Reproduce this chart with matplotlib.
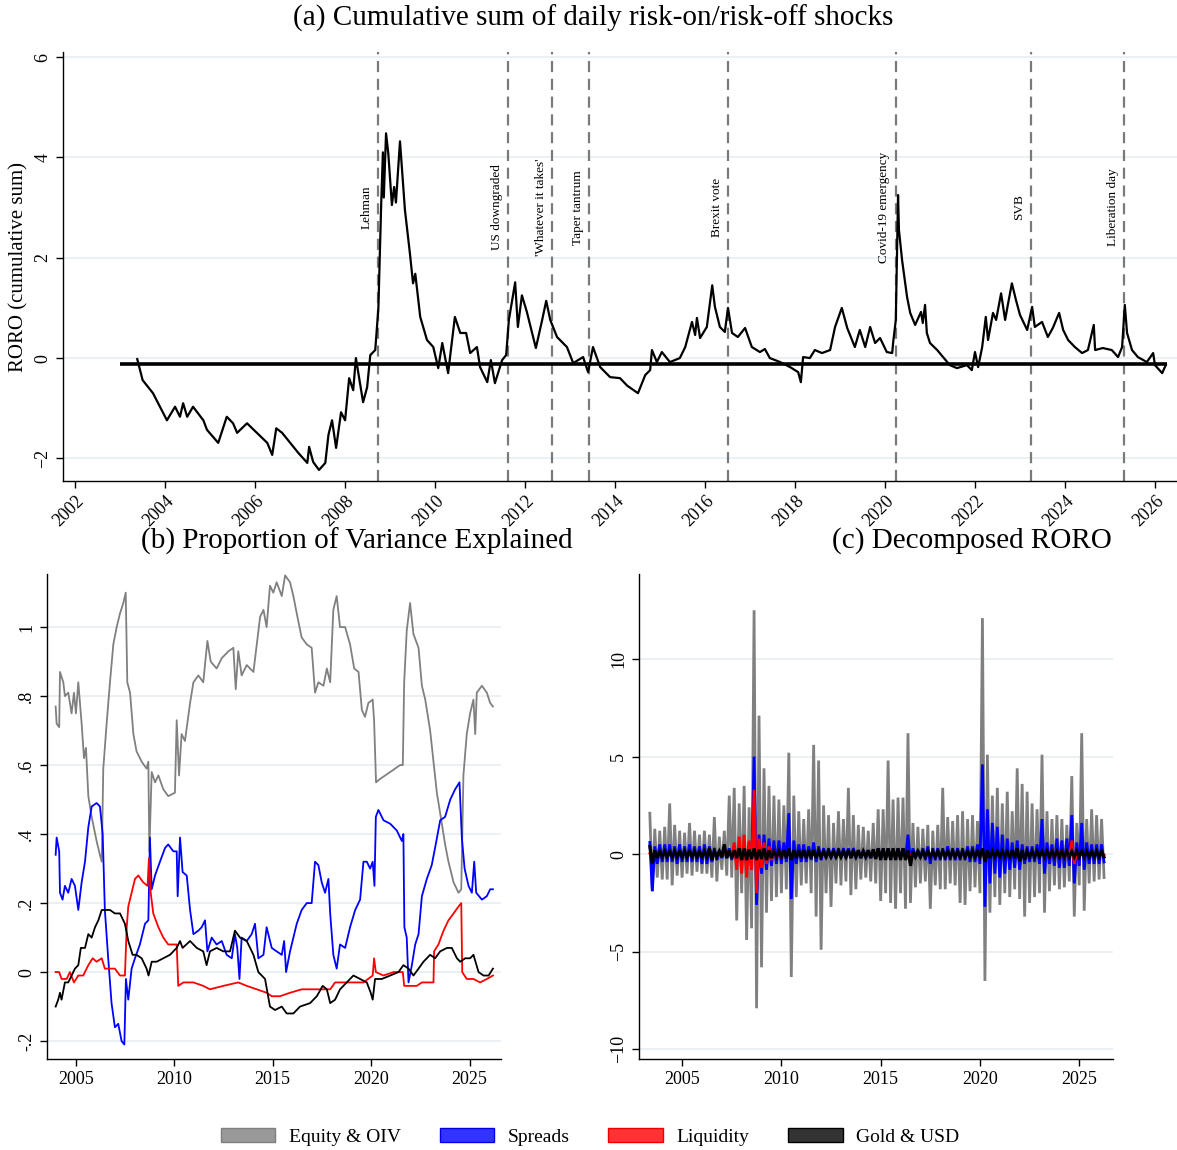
import matplotlib
matplotlib.use("Agg")
import matplotlib.pyplot as plt
from matplotlib.patches import Patch
import numpy as np

plt.rcParams['font.family'] = ['Liberation Serif', 'DejaVu Serif']

# ---------------- panel (a): cumulative RORO ----------------
a_year = [2003.38, 2003.50, 2003.73, 2004.04, 2004.22, 2004.33, 2004.40, 2004.49, 2004.62, 2004.85,
          2004.93, 2005.18, 2005.37, 2005.51, 2005.60, 2005.82, 2006.04, 2006.27, 2006.38, 2006.47,
          2006.60, 2006.78, 2006.96, 2007.16, 2007.20, 2007.29, 2007.42, 2007.56, 2007.63, 2007.71,
          2007.80, 2007.91, 2008.00, 2008.09, 2008.18, 2008.24, 2008.40, 2008.49, 2008.56, 2008.67,
          2008.74, 2008.80, 2008.84, 2008.86, 2008.91, 2008.96, 2009.04, 2009.09, 2009.13, 2009.22,
          2009.33, 2009.44, 2009.51, 2009.56, 2009.67, 2009.82, 2009.96, 2010.07, 2010.16, 2010.29,
          2010.44, 2010.56, 2010.69, 2010.78, 2010.93, 2011.00, 2011.16, 2011.24, 2011.33, 2011.49,
          2011.58, 2011.64, 2011.78, 2011.84, 2011.93, 2012.04, 2012.24, 2012.38, 2012.47, 2012.56,
          2012.71, 2012.93, 2013.07, 2013.29, 2013.40, 2013.51, 2013.67, 2013.89, 2014.11, 2014.27,
          2014.51, 2014.67, 2014.78, 2014.82, 2014.93, 2015.04, 2015.22, 2015.44, 2015.56, 2015.71,
          2015.78, 2015.82, 2015.89, 2016.04, 2016.16, 2016.22, 2016.33, 2016.44, 2016.51, 2016.60,
          2016.73, 2016.89, 2017.04, 2017.22, 2017.33, 2017.44, 2017.67, 2017.89, 2018.07, 2018.13,
          2018.18, 2018.33, 2018.44, 2018.60, 2018.78, 2018.89, 2019.04, 2019.16, 2019.33, 2019.44,
          2019.56, 2019.67, 2019.78, 2019.89, 2020.04, 2020.16, 2020.18, 2020.24, 2020.29, 2020.31,
          2020.38, 2020.42, 2020.49, 2020.56, 2020.67, 2020.80, 2020.84, 2020.89, 2020.93, 2021.00,
          2021.16, 2021.29, 2021.44, 2021.60, 2021.82, 2021.93, 2022.00, 2022.07, 2022.16, 2022.24,
          2022.29, 2022.40, 2022.47, 2022.58, 2022.67, 2022.73, 2022.82, 2022.91, 2023.00, 2023.16,
          2023.27, 2023.33, 2023.49, 2023.62, 2023.73, 2023.87, 2023.96, 2024.07, 2024.22, 2024.38,
          2024.51, 2024.64, 2024.67, 2024.84, 2025.04, 2025.18, 2025.27, 2025.33, 2025.38, 2025.49,
          2025.62, 2025.82, 2025.96, 2026.00, 2026.16, 2026.24]
a_val = [-0.02, -0.44, -0.70, -1.24, -0.97, -1.17, -0.90, -1.17, -0.97, -1.24,
         -1.43, -1.69, -1.17, -1.30, -1.49, -1.30, -1.49, -1.69, -1.93, -1.40,
         -1.49, -1.69, -1.89, -2.09, -1.77, -2.07, -2.23, -2.09, -1.53, -1.24,
         -1.79, -1.08, -1.24, -0.40, -0.64, 0.00, -0.88, -0.58, 0.06, 0.16,
         1.00, 3.00, 4.10, 3.20, 4.48, 4.08, 3.05, 3.41, 3.10, 4.32,
         2.95, 2.09, 1.49, 1.68, 0.82, 0.36, 0.22, -0.20, 0.30, -0.30,
         0.82, 0.50, 0.50, 0.10, 0.22, -0.18, -0.48, -0.04, -0.50, -0.04,
         0.06, 0.76, 1.51, 0.62, 1.25, 0.92, 0.20, 0.76, 1.14, 0.76,
         0.42, 0.22, -0.10, 0.02, -0.28, 0.22, -0.18, -0.38, -0.40, -0.55,
         -0.70, -0.34, -0.24, 0.16, -0.08, 0.12, -0.08, 0.00, 0.22, 0.72,
         0.46, 0.80, 0.40, 0.62, 1.45, 1.02, 0.62, 0.52, 1.00, 0.50,
         0.42, 0.60, 0.22, 0.12, 0.18, 0.00, -0.08, -0.18, -0.28, -0.48,
         0.02, 0.00, 0.16, 0.10, 0.16, 0.62, 1.00, 0.60, 0.22, 0.56,
         0.22, 0.62, 0.30, 0.40, 0.12, 0.10, 0.30, 0.76, 3.25, 2.55,
         1.95, 1.68, 1.22, 0.90, 0.66, 0.92, 0.70, 1.06, 0.50, 0.30,
         0.16, 0.02, -0.14, -0.20, -0.14, -0.24, 0.12, -0.18, 0.22, 0.82,
         0.36, 0.90, 0.76, 1.29, 0.76, 1.06, 1.49, 1.16, 0.86, 0.56,
         1.02, 0.62, 0.72, 0.42, 0.60, 0.90, 0.56, 0.36, 0.22, 0.10,
         0.16, 0.66, 0.16, 0.20, 0.16, 0.02, 0.22, 1.06, 0.50, 0.16,
         0.02, -0.08, 0.10, -0.14, -0.30, -0.14]
a_mean = -0.12
a_mean_span = [2003.0, 2026.27]

events = ['Lehman', 'US downgraded', "'Whatever it takes'", 'Taper tantrum',
          'Brexit vote', 'Covid-19 emergency', 'SVB', 'Liberation day']
event_year = [2008.73, 2011.62, 2012.60, 2013.42, 2016.51, 2020.24, 2023.24, 2025.31]

# ---------------- panel (b): proportion of variance explained ----------------
eq_year = [2003.97, 2004.02, 2004.15, 2004.19, 2004.36, 2004.44, 2004.61, 2004.78, 2004.90, 2005.00,
           2005.12, 2005.29, 2005.41, 2005.51, 2005.63, 2005.80, 2006.05, 2006.22, 2006.31, 2006.39,
           2006.56, 2006.73, 2006.90, 2007.07, 2007.24, 2007.41, 2007.53, 2007.61, 2007.75, 2007.92,
           2008.08, 2008.34, 2008.59, 2008.68, 2008.73, 2008.85, 2009.02, 2009.19, 2009.44, 2009.69,
           2010.03, 2010.12, 2010.24, 2010.37, 2010.54, 2010.80, 2010.97, 2011.22, 2011.47, 2011.68,
           2011.85, 2012.15, 2012.41, 2012.75, 2013.00, 2013.12, 2013.25, 2013.42, 2013.68, 2014.02,
           2014.19, 2014.36, 2014.53, 2014.69, 2014.86, 2015.03, 2015.20, 2015.46, 2015.63, 2015.88,
           2016.05, 2016.22, 2016.47, 2016.73, 2016.98, 2017.15, 2017.32, 2017.58, 2017.75, 2017.92,
           2018.08, 2018.25, 2018.42, 2018.68, 2018.93, 2019.14, 2019.36, 2019.53, 2019.69, 2019.86,
           2020.08, 2020.15, 2020.25, 2020.46, 2020.97, 2021.47, 2021.61, 2021.68, 2021.81, 2021.98,
           2022.15, 2022.41, 2022.58, 2022.75, 2023.00, 2023.17, 2023.34, 2023.51, 2023.76, 2023.93,
           2024.19, 2024.44, 2024.58, 2024.69, 2024.86, 2025.03, 2025.20, 2025.29, 2025.37, 2025.63,
           2025.88, 2026.05, 2026.19]
eq_val = [0.77, 0.72, 0.71, 0.87, 0.84, 0.80, 0.81, 0.75, 0.81, 0.75,
          0.84, 0.72, 0.62, 0.65, 0.51, 0.45, 0.38, 0.34, 0.32, 0.59,
          0.72, 0.84, 0.95, 1.00, 1.04, 1.07, 1.10, 0.84, 0.81, 0.69,
          0.64, 0.61, 0.59, 0.61, 0.35, 0.58, 0.55, 0.57, 0.53, 0.51,
          0.52, 0.73, 0.57, 0.69, 0.67, 0.78, 0.84, 0.86, 0.84, 0.96,
          0.90, 0.88, 0.91, 0.93, 0.94, 0.82, 0.93, 0.86, 0.89, 0.87,
          0.95, 1.03, 1.05, 1.00, 1.12, 1.10, 1.13, 1.09, 1.15, 1.13,
          1.09, 1.04, 0.97, 0.95, 0.94, 0.81, 0.84, 0.83, 0.88, 0.84,
          1.05, 1.09, 1.00, 1.00, 0.95, 0.88, 0.87, 0.76, 0.74, 0.78,
          0.79, 0.73, 0.55, 0.56, 0.58, 0.60, 0.60, 0.84, 0.99, 1.07,
          0.98, 0.94, 0.83, 0.79, 0.70, 0.61, 0.52, 0.46, 0.37, 0.32,
          0.26, 0.23, 0.24, 0.57, 0.69, 0.75, 0.79, 0.69, 0.81, 0.83,
          0.81, 0.78, 0.77]

sp_year = [2003.97, 2004.02, 2004.15, 2004.19, 2004.32, 2004.44, 2004.61, 2004.78, 2004.95, 2005.12,
           2005.29, 2005.46, 2005.63, 2005.80, 2006.05, 2006.22, 2006.36, 2006.47, 2006.64, 2006.81,
           2006.98, 2007.15, 2007.32, 2007.46, 2007.54, 2007.66, 2007.83, 2008.00, 2008.25, 2008.51,
           2008.68, 2008.76, 2008.85, 2009.02, 2009.27, 2009.53, 2009.69, 2009.95, 2010.12, 2010.17,
           2010.29, 2010.42, 2010.63, 2010.80, 2010.97, 2011.22, 2011.39, 2011.56, 2011.68, 2011.90,
           2012.15, 2012.41, 2012.66, 2012.92, 2013.08, 2013.20, 2013.31, 2013.42, 2013.68, 2013.93,
           2014.10, 2014.27, 2014.53, 2014.69, 2014.95, 2015.20, 2015.46, 2015.58, 2015.68, 2015.88,
           2016.22, 2016.47, 2016.73, 2016.98, 2017.15, 2017.32, 2017.49, 2017.66, 2017.83, 2017.92,
           2018.08, 2018.25, 2018.42, 2018.68, 2018.93, 2019.19, 2019.44, 2019.61, 2019.78, 2019.95,
           2020.08, 2020.17, 2020.24, 2020.37, 2020.63, 2020.97, 2021.31, 2021.56, 2021.64, 2021.69,
           2021.81, 2021.90, 2022.07, 2022.24, 2022.41, 2022.58, 2022.83, 2023.08, 2023.25, 2023.51,
           2023.76, 2024.02, 2024.27, 2024.49, 2024.61, 2024.75, 2024.95, 2025.12, 2025.24, 2025.34,
           2025.63, 2025.88, 2026.05, 2026.19]
sp_val = [0.34, 0.39, 0.35, 0.23, 0.21, 0.25, 0.23, 0.27, 0.25, 0.18,
          0.26, 0.32, 0.42, 0.48, 0.49, 0.48, 0.40, 0.18, 0.04, -0.09,
          -0.16, -0.15, -0.20, -0.21, -0.02, -0.08, 0.01, 0.04, 0.08, 0.14,
          0.15, 0.39, 0.24, 0.28, 0.32, 0.36, 0.37, 0.35, 0.35, 0.22,
          0.39, 0.29, 0.28, 0.18, 0.11, 0.12, 0.13, 0.15, 0.06, 0.10,
          0.08, 0.09, 0.05, 0.04, 0.11, 0.07, -0.02, 0.10, 0.09, 0.11,
          0.14, 0.04, 0.05, 0.13, 0.07, 0.06, 0.05, 0.09, 0.00, 0.06,
          0.14, 0.18, 0.20, 0.20, 0.32, 0.31, 0.26, 0.23, 0.27, 0.17,
          0.05, 0.01, 0.08, 0.07, 0.13, 0.18, 0.21, 0.32, 0.32, 0.30,
          0.32, 0.25, 0.45, 0.47, 0.44, 0.43, 0.41, 0.38, 0.40, 0.13,
          0.10, -0.03, 0.02, 0.08, 0.11, 0.22, 0.27, 0.31, 0.36, 0.44,
          0.45, 0.50, 0.53, 0.55, 0.39, 0.30, 0.25, 0.23, 0.32, 0.23,
          0.21, 0.22, 0.24, 0.24]

lq_year = [2003.97, 2004.15, 2004.27, 2004.53, 2004.69, 2004.90, 2005.12, 2005.37, 2005.63, 2005.85,
           2006.05, 2006.31, 2006.47, 2006.73, 2006.98, 2007.24, 2007.49, 2007.58, 2007.66, 2007.83,
           2008.00, 2008.17, 2008.42, 2008.64, 2008.71, 2008.80, 2008.93, 2009.19, 2009.44, 2009.69,
           2010.12, 2010.20, 2010.46, 2010.97, 2011.47, 2011.81, 2012.49, 2013.25, 2013.68, 2014.19,
           2014.69, 2014.95, 2015.37, 2015.88, 2016.47, 2017.07, 2017.58, 2017.92, 2018.17, 2018.59,
           2019.10, 2019.61, 2020.08, 2020.15, 2020.24, 2020.63, 2021.14, 2021.61, 2021.68, 2021.98,
           2022.32, 2022.58, 2023.00, 2023.17, 2023.20, 2023.42, 2023.68, 2023.93, 2024.19, 2024.44,
           2024.58, 2024.63, 2024.86, 2025.20, 2025.54, 2025.88, 2026.19]
lq_val = [0.00, 0.00, -0.02, -0.02, 0.00, -0.03, -0.01, -0.01, 0.02, 0.04,
          0.03, 0.04, 0.01, 0.01, 0.01, -0.01, -0.01, 0.13, 0.19, 0.23,
          0.27, 0.28, 0.26, 0.25, 0.33, 0.23, 0.17, 0.13, 0.10, 0.08,
          0.08, -0.04, -0.03, -0.03, -0.04, -0.05, -0.04, -0.03, -0.04, -0.05,
          -0.06, -0.07, -0.07, -0.06, -0.05, -0.05, -0.05, -0.05, -0.03, -0.03,
          -0.03, -0.03, -0.01, 0.04, 0.00, -0.01, 0.00, 0.00, -0.04, -0.04,
          -0.04, -0.03, -0.03, -0.03, 0.06, 0.08, 0.12, 0.15, 0.17, 0.19,
          0.20, 0.00, -0.02, -0.02, -0.03, -0.02, -0.01]

gd_year = [2003.97, 2004.10, 2004.19, 2004.27, 2004.44, 2004.61, 2004.78, 2004.95, 2005.12, 2005.25,
           2005.46, 2005.63, 2005.80, 2005.97, 2006.14, 2006.31, 2006.47, 2006.73, 2006.98, 2007.24,
           2007.49, 2007.66, 2007.88, 2008.08, 2008.34, 2008.59, 2008.69, 2008.85, 2009.10, 2009.44,
           2009.78, 2010.12, 2010.29, 2010.42, 2010.80, 2011.14, 2011.47, 2011.64, 2011.81, 2012.15,
           2012.49, 2012.83, 2013.08, 2013.34, 2013.68, 2014.02, 2014.27, 2014.61, 2014.86, 2015.12,
           2015.46, 2015.71, 2016.05, 2016.39, 2016.90, 2017.24, 2017.54, 2017.75, 2017.92, 2018.17,
           2018.42, 2018.76, 2019.10, 2019.44, 2019.78, 2019.98, 2020.08, 2020.20, 2020.54, 2020.97,
           2021.39, 2021.64, 2021.90, 2022.15, 2022.41, 2022.66, 2023.00, 2023.25, 2023.51, 2023.85,
           2024.10, 2024.36, 2024.53, 2024.78, 2025.03, 2025.20, 2025.46, 2025.71, 2025.97, 2026.19]
gd_val = [-0.10, -0.08, -0.06, -0.08, -0.03, -0.03, -0.01, 0.01, 0.02, 0.07,
          0.07, 0.11, 0.10, 0.13, 0.15, 0.18, 0.18, 0.18, 0.17, 0.17,
          0.14, 0.09, 0.05, 0.05, 0.04, 0.01, -0.01, 0.03, 0.03, 0.04,
          0.05, 0.07, 0.09, 0.07, 0.09, 0.07, 0.06, 0.02, 0.06, 0.07,
          0.06, 0.06, 0.12, 0.10, 0.09, 0.05, 0.00, -0.02, -0.10, -0.11,
          -0.10, -0.12, -0.12, -0.10, -0.09, -0.07, -0.04, -0.05, -0.09, -0.08,
          -0.05, -0.03, -0.01, -0.02, -0.03, -0.06, -0.08, -0.02, -0.02, -0.01,
          0.00, 0.02, 0.01, -0.01, 0.01, 0.03, 0.05, 0.04, 0.06, 0.07,
          0.07, 0.04, 0.03, 0.04, 0.04, 0.05, 0.00, -0.01, -0.01, 0.01]

# ---------------- panel (c): decomposed RORO, quarterly high/low envelopes ----------------
c_q = list(np.arange(2003.375, 2026.2, 0.25))
gray_hi = [2.1, 1.3, 1.2,
           1.4, 2.6, 1.5, 1.2,   1.1, 1.6, 1.2, 1.0,   1.2, 1.0, 1.9, 0.9,   1.2, 3.0, 3.4, 2.6,
           3.5, 2.4, 12.5, 7.1,  4.4, 3.5, 3.0, 2.8,   2.5, 5.2, 3.0, 2.2,   1.8, 2.3, 5.6, 4.8,
           2.5, 2.0, 1.6, 2.2,   1.8, 3.4, 2.0, 1.5,   1.4, 1.2, 1.6, 2.3,   2.3, 4.8, 2.8, 2.9,
           2.9, 6.2, 1.6, 1.4,   1.3, 1.5, 1.2, 1.5,   3.4, 1.9, 1.7, 2.0,   2.2, 1.8, 2.0, 1.7,
           12.1, 5.1, 3.0, 3.4,  2.6, 3.2, 2.2, 4.4,   3.6, 3.2, 2.6, 2.3,   5.1, 2.2, 1.8, 2.0,
           1.8, 1.5, 4.0, 1.6,   6.2, 1.8, 2.3, 2.0,
           1.8]
gray_lo = [-1.9, -1.2, -1.3,
           -1.3, -1.6, -1.1, -1.2,   -1.0, -1.1, -0.9, -1.0,   -1.0, -1.2, -1.4, -0.8,   -1.1, -1.2, -3.4, -2.0,
           -4.4, -3.8, -7.9, -5.8,   -3.0, -2.4, -2.2, -2.0,   -1.8, -6.3, -2.2, -1.6,   -1.5, -2.0, -3.2, -4.9,
           -2.0, -2.7, -1.5, -1.6,   -1.4, -2.1, -1.8, -1.3,   -1.2, -1.4, -1.5, -2.4,   -2.0, -2.5, -2.8, -2.0,
           -2.8, -2.5, -1.7, -1.5,   -1.4, -2.8, -1.6, -1.8,   -1.8, -1.5, -1.6, -2.5,   -2.6, -1.9, -1.7, -2.0,
           -6.5, -3.0, -2.2, -2.6,   -2.0, -2.2, -1.8, -2.3,   -3.2, -2.5, -2.2, -2.0,   -3.0, -1.9, -1.6, -1.8,
           -1.7, -1.4, -3.2, -1.6,   -2.9, -1.5, -1.4, -1.3,
           -1.2]
blue_hi = [0.6, 0.4, 0.5,
           0.5, 0.5, 0.4, 0.5,   0.4, 0.5, 0.4, 0.4,   0.5, 0.4, 0.3, 0.2,   0.2, 0.3, 0.4, 0.5,
           0.5, 0.6, 5.0, 1.0,   1.0, 0.8, 0.7, 0.7,   0.6, 2.1, 0.7, 0.5,   0.5, 0.4, 0.6, 0.4,
           0.3, 0.3, 0.3, 0.3,   0.3, 0.3, 0.3, 0.2,   0.2, 0.2, 0.2, 0.3,   0.2, 0.3, 0.2, 0.3,
           0.3, 1.0, 0.3, 0.2,   0.3, 0.4, 0.3, 0.3,   0.3, 0.4, 0.3, 0.3,   0.3, 0.4, 0.4, 0.5,
           4.6, 2.3, 1.6, 1.4,   1.0, 0.8, 0.6, 0.7,   0.5, 0.4, 0.4, 0.5,   1.8, 0.6, 0.5, 0.8,
           0.7, 0.8, 2.0, 0.6,   1.6, 0.6, 0.5, 0.5,
           0.5]
blue_lo = [-1.9, -0.5, -0.4,
           -0.4, -0.4, -0.5, -0.4,   -0.4, -0.4, -0.4, -0.5,   -0.5, -0.4, -0.3, -0.2,   -0.2, -0.3, -0.4, -0.4,
           -0.6, -0.8, -2.6, -1.0,   -0.8, -0.6, -0.5, -0.5,   -0.4, -2.3, -0.5, -0.4,   -0.4, -0.3, -0.4, -0.3,
           -0.2, -0.2, -0.2, -0.2,   -0.2, -0.2, -0.2, -0.2,   -0.2, -0.2, -0.2, -0.2,   -0.2, -0.2, -0.2, -0.2,
           -0.2, -0.4, -0.2, -0.2,   -0.3, -0.5, -0.3, -0.3,   -0.3, -0.3, -0.3, -0.3,   -0.3, -0.4, -0.4, -0.5,
           -2.7, -1.5, -1.0, -1.2,   -1.0, -0.8, -0.7, -0.8,   -0.5, -0.4, -0.4, -0.5,   -1.0, -0.5, -0.6, -0.7,
           -0.7, -0.6, -1.5, -0.6,   -0.8, -0.5, -0.5, -0.5,
           -0.4]
red_hi = [0.05, 0.05, 0.05,
          0.05, 0.05, 0.05, 0.05,   0.05, 0.05, 0.05, 0.05,   0.05, 0.05, 0.05, 0.05,   0.1, 0.2, 0.6, 0.9,
          1.0, 0.7, 3.3, 0.8,   0.6, 0.4, 0.2, 0.2,   0.1, 0.1, 0.05, 0.05,   0.05, 0.05, 0.05, 0.05,
          0.05, 0.05, 0.05, 0.05,   0.05, 0.05, 0.05, 0.05,   0.05, 0.05, 0.05, 0.05,   0.05, 0.05, 0.05, 0.05,
          0.05, 0.05, 0.05, 0.05,   0.05, 0.05, 0.05, 0.05,   0.05, 0.05, 0.05, 0.05,   0.05, 0.05, 0.05, 0.05,
          0.05, 0.05, 0.05, 0.05,   0.05, 0.05, 0.05, 0.05,   0.05, 0.05, 0.05, 0.05,   0.1, 0.15, 0.15, 0.2,
          0.2, 0.2, 0.7, 0.1,   0.05, 0.05, 0.05, 0.05,
          0.05]
red_lo = [-0.05, -0.05, -0.05,
          -0.05, -0.05, -0.05, -0.05,   -0.05, -0.05, -0.05, -0.05,   -0.05, -0.05, -0.05, -0.05,   -0.1, -0.2, -0.8, -1.0,
          -1.2, -0.8, -2.0, -0.7,   -0.5, -0.3, -0.2, -0.2,   -0.1, -0.1, -0.05, -0.05,   -0.05, -0.05, -0.05, -0.05,
          -0.05, -0.05, -0.05, -0.05,   -0.05, -0.05, -0.05, -0.05,   -0.05, -0.05, -0.05, -0.05,   -0.05, -0.05, -0.05, -0.05,
          -0.05, -0.05, -0.05, -0.05,   -0.05, -0.05, -0.05, -0.05,   -0.05, -0.05, -0.05, -0.05,   -0.05, -0.05, -0.05, -0.05,
          -0.05, -0.05, -0.05, -0.05,   -0.05, -0.05, -0.05, -0.05,   -0.05, -0.05, -0.05, -0.05,   -0.1, -0.15, -0.15, -0.2,
          -0.2, -0.2, -0.5, -0.1,   -0.05, -0.05, -0.05, -0.05,
          -0.05]
blk_hi = [0.4, 0.2, 0.15,
          0.15, 0.15, 0.15, 0.15,   0.15, 0.15, 0.15, 0.15,   0.15, 0.3, 0.15, 0.15,   0.5, 0.2, 0.2, 0.3,
          0.3, 0.25, 0.3, 0.25,   0.3, 0.2, 0.15, 0.15,   0.2, 0.3, 0.2, 0.2,   0.2, 0.2, 0.2, 0.15,
          0.15, 0.15, 0.15, 0.15,   0.15, 0.2, 0.15, 0.2,   0.15, 0.2, 0.25, 0.3,   0.3, 0.3, 0.3, 0.3,
          0.3, 0.2, 0.15, 0.15,   0.15, 0.15, 0.15, 0.15,   0.15, 0.15, 0.15, 0.15,   0.15, 0.15, 0.15, 0.15,
          0.3, 0.2, 0.15, 0.15,   0.15, 0.15, 0.2, 0.3,   0.2, 0.15, 0.15, 0.15,   0.15, 0.15, 0.15, 0.15,
          0.15, 0.15, 0.15, 0.15,   0.15, 0.15, 0.15, 0.15,
          0.15]
blk_lo = [-0.5, -0.2, -0.15,
          -0.15, -0.15, -0.15, -0.15,   -0.15, -0.15, -0.15, -0.15,   -0.15, -0.3, -0.15, -0.15,   -0.2, -0.2, -0.2, -0.3,
          -0.3, -0.25, -0.3, -0.25,   -0.3, -0.2, -0.15, -0.15,   -0.2, -0.3, -0.2, -0.2,   -0.2, -0.2, -0.2, -0.15,
          -0.15, -0.15, -0.15, -0.15,   -0.15, -0.2, -0.15, -0.2,   -0.15, -0.2, -0.25, -0.3,   -0.3, -0.3, -0.3, -0.3,
          -0.3, -0.6, -0.15, -0.15,   -0.15, -0.15, -0.15, -0.15,   -0.15, -0.15, -0.15, -0.15,   -0.15, -0.15, -0.15, -0.15,
          -0.4, -0.2, -0.15, -0.15,   -0.15, -0.15, -0.2, -0.35,   -0.3, -0.15, -0.15, -0.15,   -0.15, -0.15, -0.15, -0.15,
          -0.15, -0.15, -0.15, -0.15,   -0.15, -0.15, -0.15, -0.15,
          -0.15]

series_names = ['Equity & OIV', 'Spreads', 'Liquidity', 'Gold & USD']
line_cols = ['#808080', '#0000ff', '#ff0000', '#000000']
patch_cols = ['#999999', '#3333ff', '#ff3333', '#333333']
patch_edges = ['#7f7f7f', '#0000e0', '#ee0000', '#000000']
c_widths = [2.0, 2.0, 2.0, 2.2]

grid_col = '#e6eef1'
W, H = 1177, 1150
fig = plt.figure(figsize=(W / 100, H / 100), dpi=100)


def style(ax):
    for s in ['top', 'right']:
        ax.spines[s].set_visible(False)
    ax.spines['left'].set_linewidth(1.0)
    ax.spines['bottom'].set_linewidth(1.0)
    ax.grid(axis='y', color=grid_col, lw=1.2)
    ax.set_axisbelow(True)
    ax.tick_params(axis='both', labelsize=13, length=5, width=1.0, direction='out')
    ax.tick_params(axis='y', labelrotation=90)
    for lab in ax.get_yticklabels():
        lab.set_va('center')


# (a)
ax1 = fig.add_axes([63 / W, 1 - 481 / H, (1177 - 63) / W, (481 - 52) / H])
ax1.plot(a_year, a_val, color='black', lw=1.6, zorder=3)
ax1.hlines(a_mean, a_mean_span[0], a_mean_span[1], color='black', lw=2.6, zorder=4)
for name, yr in zip(events, event_year):
    ax1.axvline(yr, color='#7a7a7a', lw=1.6, ls=(0, (5, 3)), zorder=2)
    ax1.text(yr - 0.12, 3.0, name, rotation=90, ha='right', va='center', fontsize=9.5)
ax1.set_xlim(2001.73, 2026.49)
ax1.set_ylim(-2.45, 6.1)
ax1.set_xticks(range(2002, 2027, 2))
ax1.set_yticks([-2, 0, 2, 4, 6])
style(ax1)
for lab in ax1.get_xticklabels():
    lab.set_rotation(45)
    lab.set_ha('right')
    lab.set_rotation_mode('anchor')
ax1.set_ylabel('RORO (cumulative sum)', fontsize=15)

# (b)
ax2 = fig.add_axes([47 / W, 1 - 1059 / H, (501 - 47) / W, (1059 - 574) / H])
for yrs, vals, c in zip([eq_year, sp_year, lq_year, gd_year], [eq_val, sp_val, lq_val, gd_val], line_cols):
    ax2.plot(yrs, vals, color=c, lw=1.3)
ax2.set_xlim(2003.53, 2026.6)
ax2.set_ylim(-0.252, 1.154)
ax2.set_xticks([2005, 2010, 2015, 2020, 2025])
ax2.set_yticks([-0.2, 0, 0.2, 0.4, 0.6, 0.8, 1.0])
ax2.set_yticklabels(['-.2', '0', '.2', '.4', '.6', '.8', '1'])
style(ax2)

# (c)  each quarter drawn as a swing from its high to its low
ax3 = fig.add_axes([639 / W, 1 - 1059 / H, (1113 - 639) / W, (1059 - 574) / H])
cq = np.array(c_q)
zx = np.ravel(np.column_stack([cq, cq + 0.125]))
for hi, lo, c, w in zip([gray_hi, blue_hi, red_hi, blk_hi], [gray_lo, blue_lo, red_lo, blk_lo],
                        line_cols, c_widths):
    zy = np.ravel(np.column_stack([hi, lo]))
    ax3.plot(zx, zy, color=c, lw=w, solid_joinstyle='miter')
ax3.set_xlim(2002.83, 2026.7)
ax3.set_ylim(-10.5, 14.36)
ax3.set_xticks([2005, 2010, 2015, 2020, 2025])
ax3.set_yticks([-10, -5, 0, 5, 10])
style(ax3)

fig.text(593 / W, 1 - 18 / H, '(a) Cumulative sum of daily risk-on/risk-off shocks',
         ha='center', va='center', fontsize=21)
fig.text(357 / W, 1 - 541 / H, '(b) Proportion of Variance Explained',
         ha='center', va='center', fontsize=21)
fig.text(972 / W, 1 - 541 / H, '(c) Decomposed RORO',
         ha='center', va='center', fontsize=21)

handles = [Patch(facecolor=pc, edgecolor=ec, lw=1.0, label=n)
           for pc, ec, n in zip(patch_cols, patch_edges, series_names)]
fig.legend(handles=handles, loc='center', bbox_to_anchor=(590 / W, 1 - 1137 / H), ncol=4,
           frameon=False, fontsize=14, handlelength=2.8, handleheight=0.7,
           handletextpad=0.7, columnspacing=2.0)

fig.savefig('out.png', dpi=100)
